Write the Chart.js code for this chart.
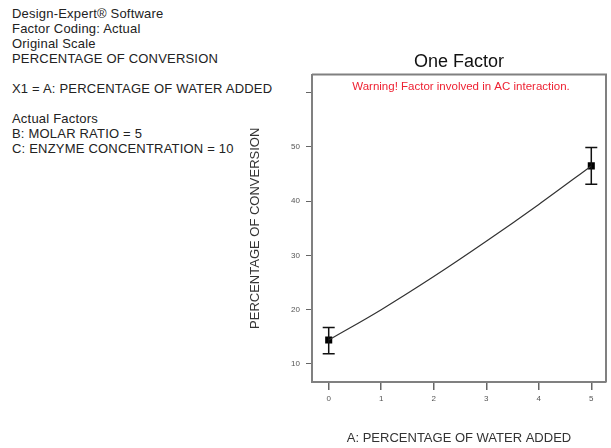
<!DOCTYPE html>
<html>
<head>
<meta charset="utf-8">
<script src="https://cdn.jsdelivr.net/npm/chart.js@4/dist/chart.umd.min.js"></script>
<style>
  body { margin: 0; background: #fff; }
  #wrap { position: relative; width: 611px; height: 448px; }
  #info {
    position: absolute; left: 12px; top: 6px;
    font: 13px "Liberation Sans", Arial, sans-serif;
    line-height: 15px; color: #222; white-space: pre;
    letter-spacing: 0.2px;
  }
  canvas { position: absolute; left: 0; top: 0; }
</style>
</head>
<body>
<div id="wrap">
  <div id="info">Design-Expert® Software
Factor Coding: Actual
Original Scale
PERCENTAGE OF CONVERSION

X1 = A: PERCENTAGE OF WATER ADDED

Actual Factors
B: MOLAR RATIO = 5
C: ENZYME CONCENTRATION = 10</div>
  <canvas id="chart" width="611" height="448"></canvas>
</div>
<script>
// Predicted curve
const curveX = [0, 1, 2, 3, 4, 5];
const curveY = [14.4, 20.0, 26.1, 32.6, 39.4, 46.5];

// Design points and their error bars
const pointX = [0, 5];
const pointY = [14.4, 46.5];
const errLow = [11.9, 43.1];
const errHigh = [16.7, 49.9];

const xTicks = [0, 1, 2, 3, 4, 5];
const yTicks = [10, 20, 30, 40, 50, 60];
const yTickLabels = ['10', '20', '30', '40', '50', ''];

const warningText = 'Warning! Factor involved in AC interaction.';

const font = '"Liberation Sans", Arial, sans-serif';

// Top and right frame lines plus the red warning line
const framePlugin = {
    id: 'frame',
    afterDraw(chart) {
        const { ctx, chartArea } = chart;
        ctx.save();
        ctx.strokeStyle = '#808080';
        ctx.lineWidth = 2;
        ctx.beginPath();
        ctx.moveTo(chartArea.left, chartArea.top);
        ctx.lineTo(chartArea.right, chartArea.top);
        ctx.lineTo(chartArea.right, chartArea.bottom);
        ctx.stroke();

        ctx.fillStyle = '#ee2233';
        ctx.font = '11.5px ' + font;
        ctx.textAlign = 'center';
        ctx.textBaseline = 'middle';
        ctx.fillText(warningText, (chartArea.left + chartArea.right) / 2 + 2, chartArea.top + 12);
        ctx.restore();
    }
};

// Error bars on the design points
const errorBarPlugin = {
    id: 'errorBars',
    afterDatasetsDraw(chart) {
        const { ctx, scales } = chart;
        ctx.save();
        ctx.strokeStyle = '#111';
        ctx.lineWidth = 1.5;
        pointX.forEach((x, i) => {
            const px = scales.x.getPixelForValue(x);
            const lo = scales.y.getPixelForValue(errLow[i]);
            const hi = scales.y.getPixelForValue(errHigh[i]);
            ctx.beginPath();
            ctx.moveTo(px, lo); ctx.lineTo(px, hi);
            ctx.moveTo(px - 6, lo); ctx.lineTo(px + 6, lo);
            ctx.moveTo(px - 6, hi); ctx.lineTo(px + 6, hi);
            ctx.stroke();
        });
        ctx.restore();
    }
};

new Chart(document.getElementById('chart'), {
    type: 'line',
    data: {
        datasets: [
            {
                label: 'Prediction',
                data: curveX.map((x, i) => ({ x, y: curveY[i] })),
                borderColor: '#333',
                borderWidth: 1.2,
                pointRadius: 0,
                cubicInterpolationMode: 'monotone',
                fill: false
            },
            {
                label: 'Design points',
                type: 'scatter',
                data: pointX.map((x, i) => ({ x, y: pointY[i] })),
                pointStyle: 'rect',
                pointRadius: 5,
                backgroundColor: '#000',
                borderColor: '#000',
                borderWidth: 0
            }
        ]
    },
    options: {
        responsive: false,
        animation: false,
        layout: { padding: { left: 240, right: 1, top: 0, bottom: 0 } },
        plugins: {
            legend: { display: false },
            tooltip: { enabled: false },
            title: {
                display: true,
                text: 'One Factor',
                fullSize: false,
                color: '#111',
                font: { family: font, size: 18, weight: 'normal' },
                padding: { top: 51, bottom: 2 }
            }
        },
        scales: {
            x: {
                type: 'linear',
                min: -0.318,
                max: 5.28,
                afterBuildTicks: s => { s.ticks = xTicks.map(v => ({ value: v })); },
                afterFit: s => { s.height = 66; },
                ticks: { color: '#555', font: { family: font, size: 8 }, padding: 4 },
                grid: { drawOnChartArea: false, tickLength: 8, color: '#666', lineWidth: 1.5 },
                border: { color: '#808080', width: 2 },
                title: {
                    display: true,
                    text: 'A: PERCENTAGE OF WATER ADDED',
                    color: '#333',
                    font: { family: font, size: 13 },
                    padding: { top: 0, bottom: 2 }
                }
            },
            y: {
                min: 6.67,
                max: 63.33,
                afterBuildTicks: s => { s.ticks = yTicks.map(v => ({ value: v })); },
                afterFit: s => { s.width = 72; },
                ticks: {
                    color: '#555',
                    font: { family: font, size: 8 },
                    padding: 6,
                    callback: (v) => yTickLabels[yTicks.indexOf(v)]
                },
                grid: { drawOnChartArea: false, tickLength: 6, color: '#666', lineWidth: 1 },
                border: { color: '#808080', width: 2 },
                title: {
                    display: true,
                    text: 'PERCENTAGE OF CONVERSION',
                    color: '#333',
                    font: { family: font, size: 13 },
                    padding: { top: 8, bottom: 0 }
                }
            }
        }
    },
    plugins: [framePlugin, errorBarPlugin]
});
</script>
</body>
</html>
